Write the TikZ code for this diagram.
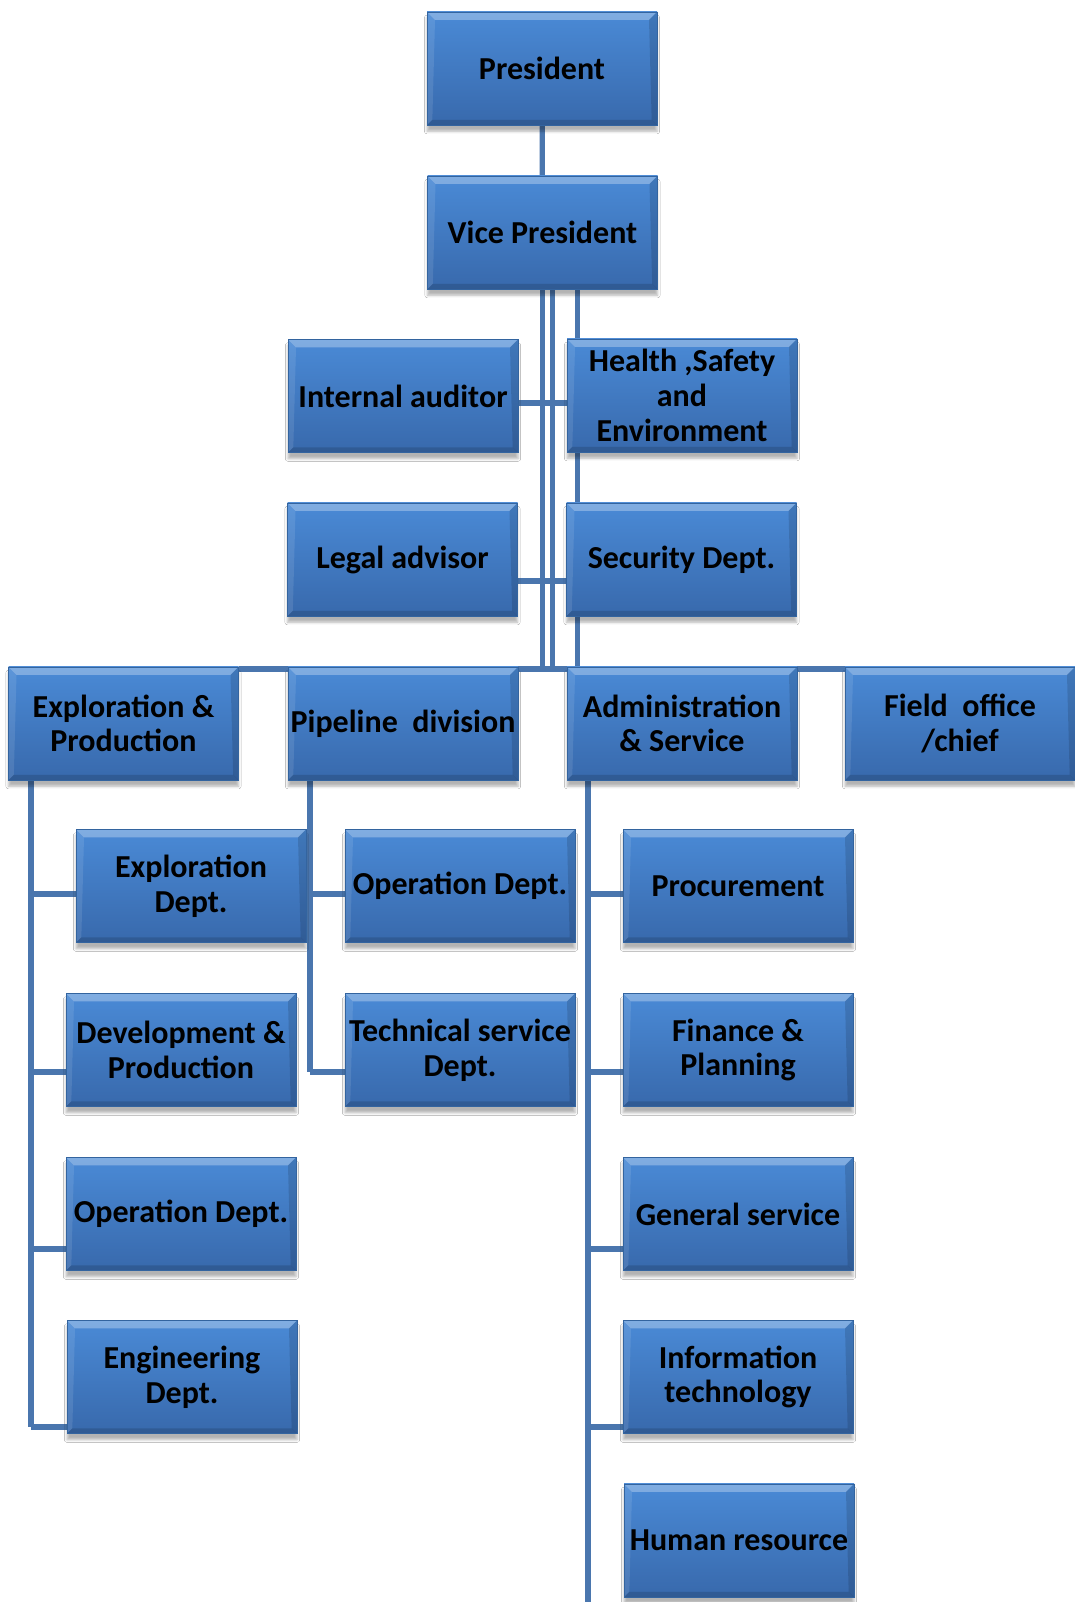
\documentclass[tikz,border=0pt]{standalone}
\usepackage{fontspec}
\setmainfont{Carlito}
\usetikzlibrary{calc,shadows.blur,backgrounds}
\definecolor{boxtop}{HTML}{4A8AD6}
\definecolor{boxbot}{HTML}{3869AC}
\definecolor{boxedge}{HTML}{33649F}
\definecolor{linkblue}{HTML}{4A76AE}

\begin{document}
\begin{tikzpicture}[x=0.75pt,y=-0.75pt,
  orgbox/.style={rectangle, minimum width=172.5pt, minimum height=85pt, inner sep=0pt,
    top color=boxtop, bottom color=boxbot, draw=boxedge, line width=0.4pt,
    font=\fontsize{24}{26}\selectfont\bfseries, align=center, text=black,
    blur shadow={shadow xshift=0pt, shadow yshift=-4.5pt, shadow blur radius=2pt, shadow opacity=30},
    path picture={
      \fill[white,opacity=.30] (path picture bounding box.north west) -- (path picture bounding box.north east)
        -- ([shift={(-6pt,-6pt)}]path picture bounding box.north east) -- ([shift={(6pt,-6pt)}]path picture bounding box.north west) -- cycle;
      \fill[white,opacity=.10] (path picture bounding box.north west) -- (path picture bounding box.south west)
        -- ([shift={(4pt,4pt)}]path picture bounding box.south west) -- ([shift={(6pt,-6pt)}]path picture bounding box.north west) -- cycle;
      \fill[black,opacity=.13] (path picture bounding box.north east) -- (path picture bounding box.south east)
        -- ([shift={(-4pt,4pt)}]path picture bounding box.south east) -- ([shift={(-6pt,-6pt)}]path picture bounding box.north east) -- cycle;
      \fill[black,opacity=.14] (path picture bounding box.south west) -- (path picture bounding box.south east)
        -- ([shift={(-4pt,4pt)}]path picture bounding box.south east) -- ([shift={(4pt,4pt)}]path picture bounding box.south west) -- cycle;
    }},
  link/.style={draw=linkblue, line width=3.9pt}]

\useasboundingbox (0,0) rectangle (1074,1602);

% top of the chart
\node[orgbox] (P)   at (542,68.5)   {President};
\node[orgbox] (VP)  at (542.5,232.5) {Vice President};

% staff units beside the vice president
\node[orgbox] (IA)  at (403,396)    {Internal auditor};
\node[orgbox] (HSE) at (682,395.5)  {Health ,Safety\\and\\Environment};
\node[orgbox] (LA)  at (402.5,559.5) {Legal advisor};
\node[orgbox] (SEC) at (681.5,559.5) {Security Dept.};

% divisions
\node[orgbox] (EP)  at (123.5,723.5) {Exploration \&\\Production};
\node[orgbox] (PD)  at (403,723.5)   {Pipeline~~division};
\node[orgbox] (AS)  at (682,723.5)   {Administration\\\& Service};
\node[orgbox] (FO)  at (960,723.5)   {Field~~office\\/chief};

% exploration & production departments
\node[orgbox] (ED)  at (191,886)  {Exploration\\Dept.};
\node[orgbox] (DP)  at (181,1050) {Development \&\\Production};
\node[orgbox] (OE)  at (181,1214) {Operation Dept.};
\node[orgbox] (EN)  at (182,1377) {Engineering\\Dept.};

% pipeline departments
\node[orgbox] (OP)  at (460,886)  {Operation Dept.};
\node[orgbox] (TS)  at (460,1050) {Technical service\\Dept.};

% administration & service departments
\node[orgbox] (PR)  at (738,886)  {Procurement};
\node[orgbox] (FP)  at (738,1050) {Finance \&\\Planning};
\node[orgbox] (GS)  at (738,1214) {General service};
\node[orgbox] (IT)  at (738,1377) {Information\\technology};
\node[orgbox] (HR)  at (739,1540.5) {Human resource};

% guide coordinates for the connector runs
\coordinate (bus) at (0,669);
\coordinate (r1) at (0,403);
\coordinate (r2) at (0,581);
\coordinate (b1) at (0,894);
\coordinate (b2) at (0,1072);
\coordinate (b3) at (0,1249);
\coordinate (b4) at (0,1427);
\coordinate (bottom) at (0,1602);
\coordinate (vb) at (552.5,0);
\coordinate (vc) at (577.5,0);
\coordinate (epl) at (31,0);
\coordinate (pdl) at (310,0);
\coordinate (asl) at (588,0);

\begin{scope}[on background layer]
  \fill[white] (0,0) rectangle (1074,1602);
  \draw[link] (P) -- (VP);
  \draw[link] (IA.east |- r1) -- (HSE.west |- r1);
  \draw[link] (LA.east |- r2) -- (SEC.west |- r2);
  \draw[link] (EP.east |- bus) -- (FO.west |- bus);
  \draw[link] (VP.south) -- (VP.south |- bus);
  \draw[link] (VP.south -| vb) -- (vb |- bus);
  \draw[link] (VP.south -| vc) -- (vc |- bus);

  \draw[link] (EP.south -| epl) -- (epl |- b4);
  \draw[link] (epl |- b1) -- (ED.west |- b1);
  \draw[link] (epl |- b2) -- (DP.west |- b2);
  \draw[link] (epl |- b3) -- (OE.west |- b3);
  \draw[link] (epl |- b4) -- (EN.west |- b4);

  \draw[link] (PD.south -| pdl) -- (pdl |- b2);
  \draw[link] (pdl |- b1) -- (OP.west |- b1);
  \draw[link] (pdl |- b2) -- (TS.west |- b2);

  \draw[link] (AS.south -| asl) -- (asl |- bottom);
  \draw[link] (asl |- b1) -- (PR.west |- b1);
  \draw[link] (asl |- b2) -- (FP.west |- b2);
  \draw[link] (asl |- b3) -- (GS.west |- b3);
  \draw[link] (asl |- b4) -- (IT.west |- b4);
\end{scope}
\end{tikzpicture}
\end{document}
